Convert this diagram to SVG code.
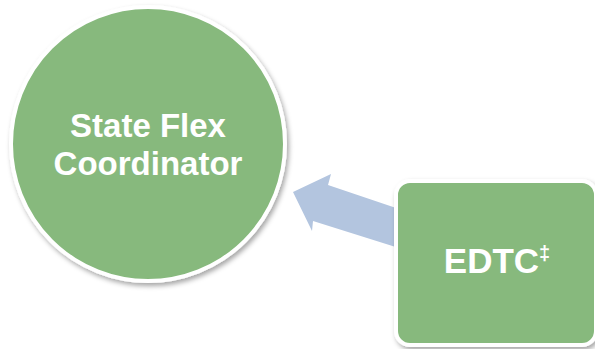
<svg xmlns="http://www.w3.org/2000/svg" width="595" height="349" viewBox="0 0 595 349">
<style>
.node{fill:#87b97d;stroke:#ffffff;stroke-width:4}
.lbl{font-family:"Liberation Sans",Arial,sans-serif;font-weight:bold;fill:#ffffff;text-anchor:middle}
</style>
<defs>
<filter id="sh" x="-20%" y="-20%" width="140%" height="140%">
<feDropShadow dx="2" dy="3" stdDeviation="2.5" flood-color="#000" flood-opacity="0.35"/>
</filter>
</defs>
<rect width="595" height="349" fill="#ffffff"/>
<g id="connectors">
<polygon points="293,192 331,174 328,185 402,210 402,249 313,221 312,231" fill="#b3c5df"/>
</g>
<g id="node-sfc">
<circle class="node" cx="148" cy="144" r="137" filter="url(#sh)"/>
<text class="lbl" x="148" y="137" font-size="33">State Flex</text>
<text class="lbl" x="148" y="175" font-size="33">Coordinator</text>
</g>
<g id="node-edtc">
<rect class="node" x="396" y="181" width="200" height="164" rx="14" filter="url(#sh)"/>
<text class="lbl" x="497" y="273" font-size="35">EDTC<tspan font-size="20" dy="-13">‡</tspan></text>
</g>
</svg>
